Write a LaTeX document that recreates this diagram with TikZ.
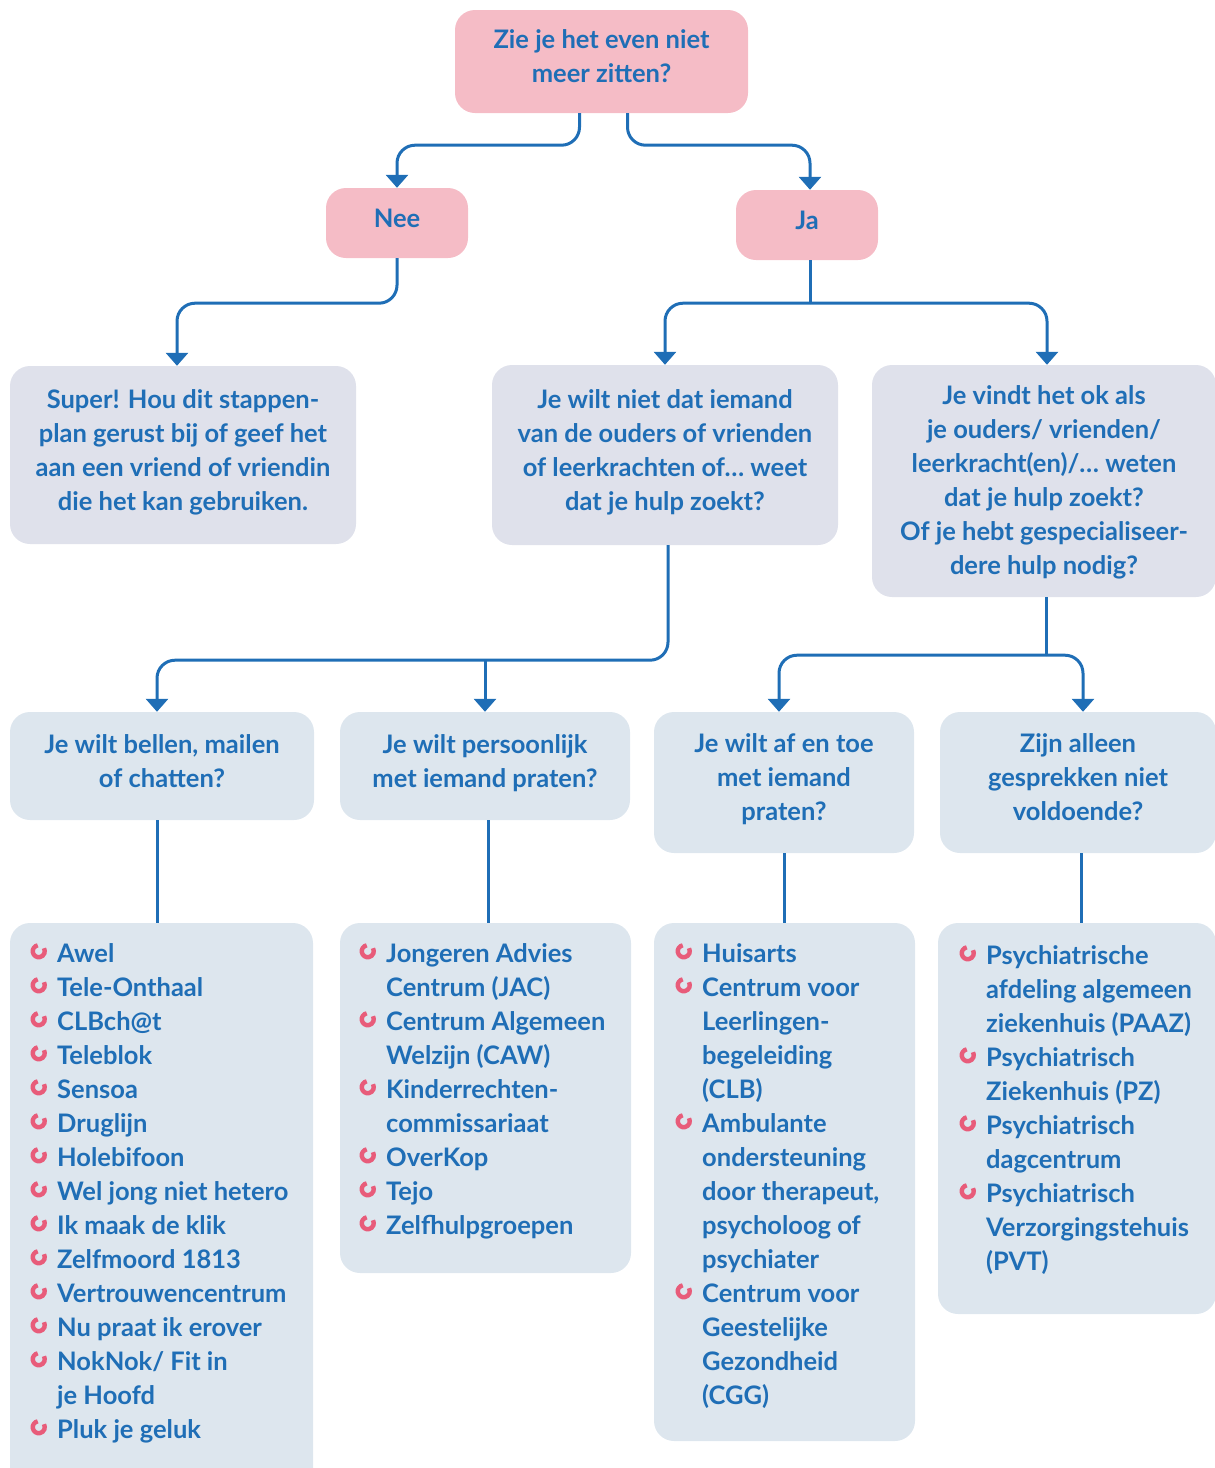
\documentclass[tikz,border=0pt]{standalone}
\usepackage{fontspec}
\setmainfont{Lato}
\usetikzlibrary{arrows.meta,calc}
\definecolor{txtblue}{RGB}{31,110,182}
\definecolor{qpink}{RGB}{245,188,198}
\definecolor{qgrey}{RGB}{223,225,235}
\definecolor{qblue}{RGB}{221,230,238}
\definecolor{bulpink}{RGB}{232,92,122}
\tikzset{
  treenode/.style = {align=center, inner sep=0pt, text centered, text=txtblue,
    font=\fontsize{25.5}{34}\selectfont\bfseries, rounded corners=20pt},
  box_p/.style = {treenode, fill=qpink},
  box_g/.style = {treenode, fill=qgrey},
  box_b/.style = {treenode, fill=qblue},
  lst_t/.style = {align=left, inner sep=0pt, anchor=north west, text=txtblue,
    font=\fontsize{25.5}{34}\selectfont\bfseries},
  conn/.style = {draw, color=txtblue, line width=3pt, rounded corners=18pt},
  arr/.style = {conn, -{Triangle[width=22pt,length=13pt]}}
}
% vaste hoogte en diepte voor de eerste en laatste regel
\newcommand\tp{\rule{0pt}{22pt}}
\newcommand\bt{\rule[-14pt]{0pt}{14pt}}
\newcommand\bulicon{\tikz[baseline={(0,0)},x=1pt,y=1pt,line width=4.4pt,sharp corners]
  \draw[bulpink] (0,11) ++(100:6) arc[start angle=100,end angle=390,radius=6];}
\newcommand\itm{\makebox[0pt][r]{\bulicon\hspace{10pt}}}
\begin{document}
\begin{tikzpicture}[x=1pt,y=-1pt]
\clip (0,0) rectangle (1215,1468);
% vragen
\node [box_p, minimum width=293, minimum height=103] (q) at (601.5,61.5) {\tp Zie je het even niet\\meer zitten?\bt};
\node [box_p, minimum width=142, minimum height=70] (nee) at (397,223) {\tp Nee\bt};
\node [box_p, minimum width=142, minimum height=70] (ja) at (807,225) {\tp Ja\bt};
\node [box_g, minimum width=346, minimum height=178] (super) at (183,455)
  {\tp Super! Hou dit stappen-\\plan gerust bij of geef het\\aan een vriend of vriendin\\die het kan gebruiken.\bt};
\node [box_g, minimum width=346, minimum height=180] (mid) at (665,455)
  {\tp Je wilt niet dat iemand\\van de ouders of vrienden\\of leerkrachten of… weet\\dat je hulp zoekt?\bt};
\node [box_g, minimum width=344, minimum height=232] (right) at (1044,481)
  {\tp Je vindt het ok als\\je ouders/ vrienden/\\leerkracht(en)/… weten\\dat je hulp zoekt?\\Of je hebt gespecialiseer-\\dere hulp nodig?};
\node [box_b, minimum width=304, minimum height=108] (b1) at (162,766) {\tp Je wilt bellen, mailen\\of chatten?\bt};
\node [box_b, minimum width=290, minimum height=108] (b2) at (485,766) {\tp Je wilt persoonlijk\\met iemand praten?\bt};
\node [box_b, minimum width=260, minimum height=141] (b3) at (784,782.5) {\tp Je wilt af en toe\\met iemand\\praten?\bt};
\node [box_b, minimum width=276, minimum height=141] (b4) at (1078,782.5) {\tp Zijn alleen\\gesprekken niet\\voldoende?\bt};
% lijsten
\node [box_b, minimum width=303, minimum height=567] (l1) at (161.5,1206.5) {};
\node [box_b, minimum width=291, minimum height=350] (l2) at (485.5,1098) {};
\node [box_b, minimum width=261, minimum height=518] (l3) at (784.5,1182) {};
\node [box_b, minimum width=278, minimum height=391] (l4) at (1077,1118.5) {};
\node [lst_t] (l1t) at (57,940) {\tp\itm Awel\\\itm Tele-Onthaal\\\itm CLBch@t\\\itm Teleblok\\\itm Sensoa\\\itm Druglijn\\\itm Holebifoon\\\itm Wel jong niet hetero\\\itm Ik maak de klik\\\itm Zelfmoord 1813\\\itm Vertrouwencentrum\\\itm Nu praat ik erover\\\itm NokNok/ Fit in\\je Hoofd\\\itm Pluk je geluk};
\node [lst_t] (l2t) at (386,940) {\tp\itm Jongeren Advies\\Centrum (JAC)\\\itm Centrum Algemeen\\Welzijn (CAW)\\\itm Kinderrechten-\\commissariaat\\\itm OverKop\\\itm Tejo\\\itm Zelfhulpgroepen};
\node [lst_t] (l3t) at (702,940) {\tp\itm Huisarts\\\itm Centrum voor\\Leerlingen-\\begeleiding\\(CLB)\\\itm Ambulante\\ondersteuning\\door therapeut,\\psycholoog of\\psychiater\\\itm Centrum voor\\Geestelijke\\Gezondheid\\(CGG)};
\node [lst_t] (l4t) at (986,942) {\tp\itm Psychiatrische\\afdeling algemeen\\ziekenhuis (PAAZ)\\\itm Psychiatrisch\\Ziekenhuis (PZ)\\\itm Psychiatrisch\\dagcentrum\\\itm Psychiatrisch\\Verzorgingstehuis\\(PVT)};
% verbindingen
\draw [arr] ([xshift=-22pt]q.south) -- ++(0,32) -| (nee.north);
\draw [arr] ([xshift=26pt]q.south) -- ++(0,32) -| ([xshift=3pt]ja.north);
\draw [arr] (nee.south) -- ++(0,45) -| ([xshift=-6pt]super.north);
\coordinate (jaj) at ($(ja.south)+(3,43)$);
\draw [conn] ([xshift=3pt]ja.south) -- (jaj);
\draw [arr] (jaj) -| (mid.north);
\draw [arr] (jaj) -| ([xshift=3pt]right.north);
\coordinate (midj) at ($(mid.south)+(3,115)$);
\draw [arr] ([xshift=3pt]mid.south) -- (midj) -| ([xshift=-5pt]b1.north);
\draw [arr] (b2.north |- midj) -- (b2.north);
\coordinate (rj) at ($(right.south)+(2,58)$);
\draw [conn] ([xshift=2pt]right.south) -- (rj);
\draw [arr] (rj) -| ([xshift=-5pt]b3.north);
\draw [arr] (rj) -| ([xshift=5pt]b4.north);
\draw [conn] ([xshift=-5pt]b1.south) -- ([xshift=-5pt]b1.south |- l1.north);
\draw [conn] ([xshift=3pt]b2.south) -- ([xshift=3pt]b2.south |- l2.north);
\draw [conn] (b3.south) -- (b3.south |- l3.north);
\draw [conn] ([xshift=3pt]b4.south) -- ([xshift=3pt]b4.south |- l4.north);
\end{tikzpicture}
\end{document}
